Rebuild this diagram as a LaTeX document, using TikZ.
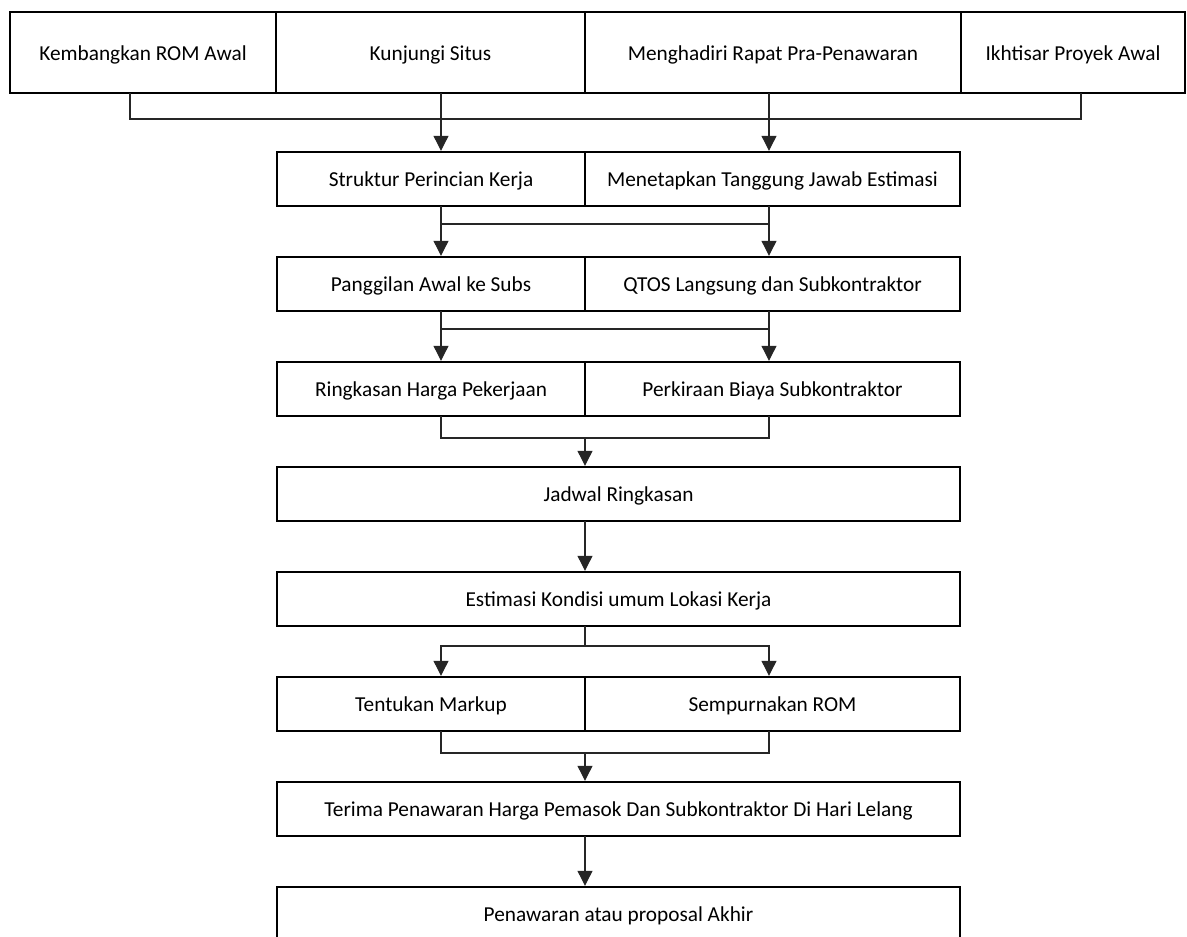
\documentclass[tikz,border=0pt]{standalone}
\usepackage{fontspec}
\setmainfont{Carlito}
\usetikzlibrary{arrows.meta}
\begin{document}
\begin{tikzpicture}[x=1pt,y=-1pt,
  box/.style={draw=black,line width=2.7pt,inner sep=0pt,outer sep=0pt,
    font=\fontsize{21.3}{25}\selectfont,anchor=center,minimum height=54pt,
    text height=20.5pt,text depth=5pt},
  topbox/.style={box,minimum height=81pt},
  lbox/.style={box,minimum width=308pt},
  rbox/.style={box,minimum width=375pt},
  fbox/.style={box,minimum width=683pt},
  conn/.style={draw=black!85,line width=1.1pt},
  arr/.style={conn,-{Triangle[length=15pt,width=15pt]},shorten >=1.2pt}]
\useasboundingbox (0,0) rectangle (1187,937);
\clip (0,0) rectangle (1187,937);
% columns
\coordinate (c130) at (130,0);
\coordinate (xa) at (441,0);
\coordinate (xc) at (585,0);
\coordinate (xb) at (769,0);
\coordinate (c1081) at (1081,0);
% horizontal levels
\coordinate (h1) at (0,119);
\coordinate (h2) at (0,224);
\coordinate (h3) at (0,329);
\coordinate (h4) at (0,438);
\coordinate (h6) at (0,646);
\coordinate (h7) at (0,753);
% top row
\node[topbox,minimum width=266pt] (k1) at (143,52.5) {Kembangkan ROM Awal};
\node[topbox,minimum width=309pt] (k2) at (430.5,52.5) {Kunjungi Situs};
\node[topbox,minimum width=376pt] (k3) at (773,52.5) {Menghadiri Rapat Pra-Penawaran};
\node[topbox,minimum width=224pt] (k4) at (1073,52.5) {Ikhtisar Proyek Awal};
% rows
\node[lbox] (s2a) at (431,179) {Struktur Perincian Kerja};
\node[rbox] (s2b) at (772.5,179) {Menetapkan Tanggung Jawab Estimasi};
\node[lbox] (s3a) at (431,284) {Panggilan Awal ke Subs};
\node[rbox] (s3b) at (772.5,284) {QTOS Langsung dan Subkontraktor};
\node[lbox] (s4a) at (431,389) {Ringkasan Harga Pekerjaan};
\node[rbox] (s4b) at (772.5,389) {Perkiraan Biaya Subkontraktor};
\node[fbox] (l5) at (618.5,494) {Jadwal Ringkasan};
\node[fbox] (l6) at (618.5,599) {Estimasi Kondisi umum Lokasi Kerja};
\node[lbox] (s7a) at (431,704) {Tentukan Markup};
\node[rbox] (s7b) at (772.5,704) {Sempurnakan ROM};
\node[fbox] (l8) at (618.5,809) {Terima Penawaran Harga Pemasok Dan Subkontraktor Di Hari Lelang};
\node[fbox] (l9) at (618.5,914) {Penawaran atau proposal Akhir};
% L1 -> L2
\draw[conn] (k1.south -| c130) -- (c130 |- h1) -- (c1081 |- h1) -- (k4.south -| c1081);
\draw[arr] (k2.south -| xa) -- (s2a.north -| xa);
\draw[arr] (k3.south -| xb) -- (s2b.north -| xb);
% L2 -> L3
\draw[conn] (xa |- h2) -- (xb |- h2);
\draw[arr] (s2a.south -| xa) -- (s3a.north -| xa);
\draw[arr] (s2b.south -| xb) -- (s3b.north -| xb);
% L3 -> L4
\draw[conn] (xa |- h3) -- (xb |- h3);
\draw[arr] (s3a.south -| xa) -- (s4a.north -| xa);
\draw[arr] (s3b.south -| xb) -- (s4b.north -| xb);
% L4 -> L5
\draw[conn] (s4a.south -| xa) -- (xa |- h4) -- (xb |- h4) -- (s4b.south -| xb);
\draw[arr] (xc |- h4) -- (l5.north -| xc);
% L5 -> L6
\draw[arr] (l5.south -| xc) -- (l6.north -| xc);
% L6 -> L7
\draw[conn] (l6.south -| xc) -- (xc |- h6);
\draw[arr] (xc |- h6) -- (xa |- h6) -- (s7a.north -| xa);
\draw[arr] (xc |- h6) -- (xb |- h6) -- (s7b.north -| xb);
% L7 -> L8
\draw[conn] (s7a.south -| xa) -- (xa |- h7) -- (xb |- h7) -- (s7b.south -| xb);
\draw[arr] (xc |- h7) -- (l8.north -| xc);
% L8 -> L9
\draw[arr] (l8.south -| xc) -- (l9.north -| xc);
\end{tikzpicture}
\end{document}
